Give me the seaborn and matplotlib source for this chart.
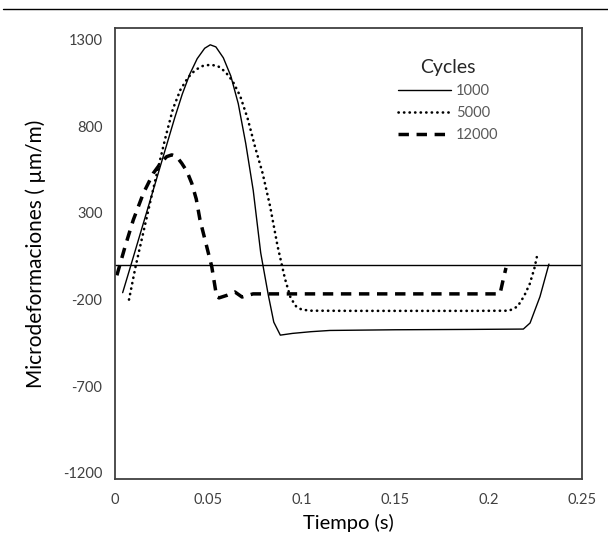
import matplotlib
matplotlib.use('Agg')
import matplotlib.pyplot as plt
from matplotlib.lines import Line2D
import seaborn as sns

# tiempo (s) y microdeformaciones
t_1000 = [0.0041, 0.008, 0.012, 0.016, 0.020, 0.024, 0.028, 0.032, 0.036, 0.040,
          0.044, 0.048, 0.051, 0.054, 0.058, 0.062, 0.066, 0.070, 0.074, 0.078,
          0.082, 0.085, 0.0885, 0.095, 0.105, 0.115, 0.150, 0.190, 0.2186,
          0.2222, 0.2275, 0.2323]
e_1000 = [-160, -20, 125, 270, 415, 560, 705, 850, 985, 1100,
          1190, 1250, 1270, 1258, 1195, 1090, 930, 700, 430, 70,
          -170, -330, -405, -395, -385, -378, -374, -372, -370,
          -335, -183, 5]

t_5000 = [0.0075, 0.011, 0.015, 0.019, 0.023, 0.027, 0.031, 0.035, 0.039, 0.043,
          0.047, 0.051, 0.055, 0.059, 0.063, 0.067, 0.071, 0.075, 0.079, 0.083,
          0.087, 0.091, 0.094, 0.097, 0.100, 0.105, 0.130, 0.160, 0.190, 0.211,
          0.2155, 0.219, 0.222, 0.2245, 0.2258]
e_5000 = [-200, -10, 180, 370, 555, 735, 900, 1010, 1080, 1125,
          1148, 1155, 1148, 1115, 1060, 975, 845, 680, 530, 340,
          110, -80, -190, -240, -258, -264, -265, -265, -265, -264,
          -240, -180, -110, -20, 45]

t_12000 = [0.001, 0.0054, 0.0098, 0.0152, 0.0205, 0.0250, 0.0277, 0.0304, 0.0330,
           0.0357, 0.0385, 0.0411, 0.0435, 0.0455, 0.0491, 0.0518, 0.0544, 0.0557,
           0.0600, 0.0642, 0.0680, 0.0739, 0.100, 0.150, 0.180, 0.2061, 0.2077,
           0.2093]
e_12000 = [-60, 106, 260, 414, 529, 595, 625, 635, 625,
           587, 540, 471, 380, 260, 106, -10, -183, -190,
           -175, -156, -185, -167, -167, -167, -167, -167, -90,
           -17]

x_ticks = [0, 0.05, 0.1, 0.15, 0.2, 0.25]
x_labels = ["0", "0.05", "0.1", "0.15", "0.2", "0.25"]
y_ticks = [-1200, -700, -200, 300, 800, 1300]
y_labels = ["-1200", "-700", "-200", "300", "800", "1300"]

sns.set_style("white")
plt.rcParams['font.family'] = ['Lato', 'DejaVu Sans']
plt.rcParams['axes.unicode_minus'] = False

fig = plt.figure(figsize=(6.08, 5.5), dpi=100)
ax = fig.add_axes([115 / 608, 1 - 479 / 550, 467 / 608, 451 / 550])

sns.lineplot(x=t_1000, y=e_1000, ax=ax, sort=False, estimator=None,
             color="black", lw=1.0, label="1000")
sns.lineplot(x=t_5000, y=e_5000, ax=ax, sort=False, estimator=None,
             color="black", lw=1.9, linestyle=(0, (0.1, 2.0)),
             dash_capstyle="round", label="5000")
sns.lineplot(x=t_12000, y=e_12000, ax=ax, sort=False, estimator=None,
             color="black", lw=2.5, linestyle=(0, (3.0, 2.2)), label="12000")

ax.axhline(0, color="black", lw=1.0, zorder=1)

ax.set_xlim(0, 0.25)
ax.set_ylim(-1235, 1367)
ax.set_xticks(x_ticks)
ax.set_xticklabels(x_labels)
ax.set_yticks(y_ticks)
ax.set_yticklabels(y_labels)
ax.tick_params(length=0, labelsize=10.5, labelcolor="#404040")
ax.tick_params(axis="x", pad=10)
ax.tick_params(axis="y", pad=9)

for s in ax.spines.values():
    s.set_visible(True)
    s.set_color("#404040")
    s.set_linewidth(1.3)

ax.set_xlabel("Tiempo (s)", fontsize=14.5, color="black", labelpad=5)
ax.set_ylabel("Microdeformaciones ( \u00b5m/m)", fontsize=15, color="black", labelpad=12)

leg = ax.legend(loc="upper left", bbox_to_anchor=(391 / 608, 1 - 52 / 550),
                bbox_transform=fig.transFigure, frameon=False, borderpad=0,
                handlelength=3.6, handletextpad=0.35, labelspacing=0.55,
                fontsize=10.5, title="Cycles", title_fontsize=14)
for txt in leg.get_texts():
    txt.set_color("#595959")

fig.add_artist(Line2D([0.005, 1.0], [1 - 9 / 550] * 2, transform=fig.transFigure,
                      color="black", lw=1.0))

plt.savefig("out.png", dpi=100)
plt.close()
